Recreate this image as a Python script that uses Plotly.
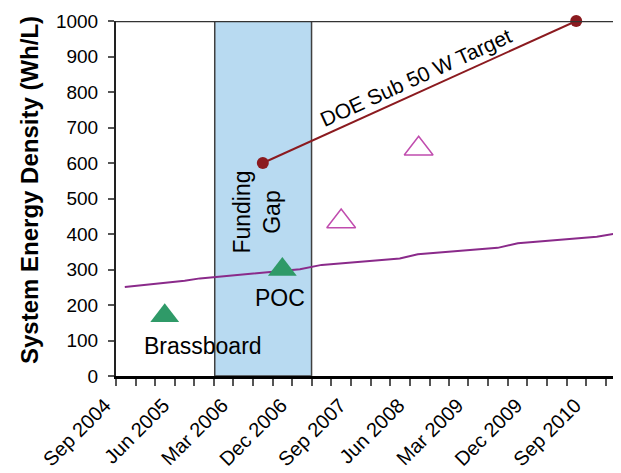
import plotly.graph_objects as go

# ---- data ----
trend_dates = ["2004-10-12", "2005-07-18", "2005-09-27", "2007-01-06", "2007-04-17",
               "2008-04-15", "2008-07-08", "2009-07-15", "2009-10-17", "2010-10-20", "2011-01-22"]
trend_vals = [251, 268, 275, 301, 313, 331, 343, 361, 374, 392, 402]

target_dates = ["2006-07-17", "2010-07-16"]
target_vals = [600, 1000]

built_dates = ["2005-04-16", "2006-10-16"]
built_vals = [170, 300]
built_labels = ["Brassboard", "POC"]

planned_dates = ["2007-07-17", "2008-07-12"]
planned_vals = [435, 640]

gap_start, gap_end = "2005-12-05", "2007-03-01"

x_range = ["2004-09-01", "2011-02-05"]
y_range = [0, 1000]

FONT = "Liberation Sans, Arial, sans-serif"

# page body has an 8px margin, so the figure is sized to fit the 621x473 window
W, H = 613, 465
ML, MR, MT, MB = 108, 1, 13, 97

fig = go.Figure()

fig.add_shape(type="rect", xref="x", yref="y", x0=gap_start, x1=gap_end,
              y0=y_range[0], y1=y_range[1], fillcolor="#B8DAF1",
              line=dict(color="#404040", width=1.5), layer="below")

fig.add_trace(go.Scatter(x=trend_dates, y=trend_vals, mode="lines",
                         line=dict(color="#8A2A8A", width=2), cliponaxis=False,
                         showlegend=False))
fig.add_trace(go.Scatter(x=target_dates, y=target_vals, mode="lines+markers",
                         line=dict(color="#8B1A1F", width=2),
                         marker=dict(size=12, color="#8B1A1F"), cliponaxis=False,
                         showlegend=False))
fig.add_trace(go.Scatter(x=built_dates, y=built_vals, mode="markers",
                         marker=dict(symbol="triangle-up", size=25, color="#2F9A68"),
                         cliponaxis=False, showlegend=False))
fig.add_trace(go.Scatter(x=planned_dates, y=planned_vals, mode="markers",
                         marker=dict(symbol="triangle-up-open", size=25, color="#C04CAE",
                                     line=dict(width=1.5)),
                         cliponaxis=False, showlegend=False))

# top border line at 1000
fig.add_shape(type="line", xref="paper", yref="y", x0=0, x1=1, y0=y_range[1], y1=y_range[1],
              line=dict(color="#333333", width=2.5))

ann_font = dict(family=FONT, size=23, color="black")
fig.add_annotation(x="2005-10-10", y=84, text=built_labels[0], showarrow=False,
                   font=ann_font, xanchor="center", yanchor="middle")
fig.add_annotation(x="2006-10-06", y=220, text=built_labels[1], showarrow=False,
                   font=ann_font, xanchor="center", yanchor="middle")
fig.add_annotation(x="2006-06-18", y=462, text="Funding<br>Gap", showarrow=False,
                   font=ann_font, textangle=-90, xanchor="center", yanchor="middle")
fig.add_annotation(x="2008-06-28", y=842, text="DOE Sub 50 W Target", showarrow=False,
                   font=dict(family=FONT, size=21, color="black"), textangle=-24.5,
                   xanchor="center", yanchor="middle")

# y-axis title as annotation (positioned slightly above plot centre, as in reference)
plot_w = W - ML - MR
plot_h = H - MT - MB
title_cx = 29 - 8      # figure px
title_cy = 190 - 8     # figure px
fig.add_annotation(xref="paper", yref="paper",
                   x=(title_cx - ML) / plot_w, y=(H - MB - title_cy) / plot_h,
                   text="<b>System Energy Density (Wh/L)</b>", showarrow=False,
                   textangle=-90, font=dict(family=FONT, size=24, color="black"),
                   xanchor="center", yanchor="middle")

fig.update_layout(
    width=W, height=H,
    margin=dict(l=ML, r=MR, t=MT, b=MB, autoexpand=False),
    paper_bgcolor="white", plot_bgcolor="white",
    font=dict(family=FONT, color="black"),
    xaxis=dict(type="date", range=x_range, tick0="2004-09-01", dtick="M9",
               tickformat="%b %Y", tickangle=-45, ticks="outside", ticklen=7,
               tickcolor="#555555", tickwidth=1.5, automargin=False, ticklabelshift=-11,
               minor=dict(tick0="2004-09-01", dtick="M3", ticks="outside", ticklen=7,
                          tickcolor="#555555", tickwidth=1.5, showgrid=False),
               showline=True, linecolor="black", linewidth=2.5, showgrid=False,
               zeroline=False, tickfont=dict(family=FONT, size=20)),
    yaxis=dict(range=y_range, dtick=100, ticks="outside", ticklen=6, tickcolor="#555555",
               tickwidth=1.5, showline=True, linecolor="#222222", linewidth=2,
               automargin=False, ticklabelstandoff=6,
               showgrid=False, zeroline=False, tickfont=dict(family=FONT, size=19)),
)

fig.write_html("out.html")
